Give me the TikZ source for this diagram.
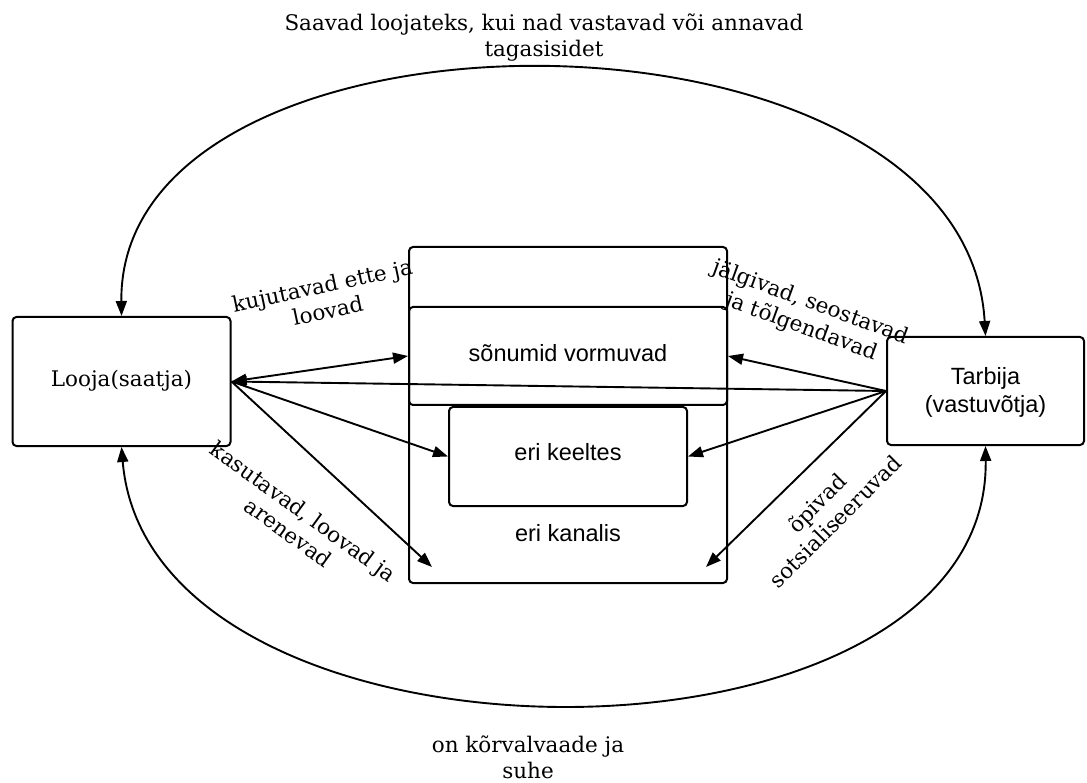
\documentclass[tikz,border=0pt]{standalone}
\usepackage{fontspec}
\setmainfont{DejaVu Serif}
\newfontfamily\boxsans{Liberation Sans}
\usetikzlibrary{arrows.meta}
\begin{document}
\begin{tikzpicture}[x=1pt,y=-1pt,
  every node/.style={inner sep=0pt},
  box/.style={draw, line width=2pt, rounded corners=4pt},
  tip/.style={},
  conn/.style={line width=1.9pt, -{Triangle[length=15pt,width=11pt]}},
  biconn/.style={line width=1.9pt, {Triangle[length=15pt,width=11pt]}-{Triangle[length=15pt,width=11pt]}},
  lbl/.style={font=\fontsize{21.5}{26}\selectfont, align=center},
  boxtxt/.style={font=\boxsans\fontsize{23.5}{28}\selectfont, align=center}]
\useasboundingbox[fill=white] (0,0) rectangle (1087,783);

% boxes
\node[box, minimum width=318pt, minimum height=336pt] (kanal) at (568,415) {};
\node[box, minimum width=318pt, minimum height=98pt] (sonum) at (568,356) {};
\node[box, minimum width=238pt, minimum height=99pt] (keel) at (568,456.5) {};
\node[box, minimum width=218pt, minimum height=129pt] (looja) at (121.5,381.5) {};
\node[box, minimum width=197pt, minimum height=108pt] (tarb) at (985.5,391) {};

% box texts
\node[lbl] (lt) at (121.5,381) {Looja(saatja)};
\node[boxtxt] (tt) at (985.5,392) {Tarbija\\(vastuv\~otja)};
\node[boxtxt] (st) at (568,353) {s\~onumid vormuvad};
\node[boxtxt] (kt) at (568,452) {eri keeltes};
\node[boxtxt] (kat) at (568,533) {eri kanalis};

% free ends inside channel box
\coordinate (kl) at (432,567);
\coordinate (kr) at (706,567);

% connectors
\draw[biconn] (looja.east) -- (sonum.west);
\draw[conn] (looja.east) -- (keel.west);
\draw[conn] (looja.east) -- (kl);
\draw[conn] (tarb.west) -- (sonum.east);
\draw[conn] (tarb.west) -- (keel.east);
\draw[conn] (tarb.west) -- (kr);
\draw[conn] (tarb.west) -- (looja.east);

% arcs
\draw[biconn] (looja.north) .. controls (118,-16) and (965,-16) .. (tarb.north);
\draw[biconn] (looja.south) .. controls (150,789) and (990,789) .. (tarb.south);

% labels
\node[lbl] (top) at (544,38) {Saavad loojateks, kui nad vastavad või annavad\\tagasisidet};
\node[lbl] (bot) at (528,757) {on k\~orvalvaade ja\\suhe};
\node[lbl, rotate=12] (l1) at (325,298) {kujutavad ette ja\\loovad};
\node[lbl, rotate=-20] (l2) at (806,315) {jälgivad, seostavad\\ja t\~olgendavad};
\node[lbl, rotate=-36] (l3) at (296,522) {kasutavad, loovad ja\\arenevad};
\node[lbl, rotate=45] (l4) at (826,512) {\~opivad\\sotsialiseeruvad};
\end{tikzpicture}
\end{document}
